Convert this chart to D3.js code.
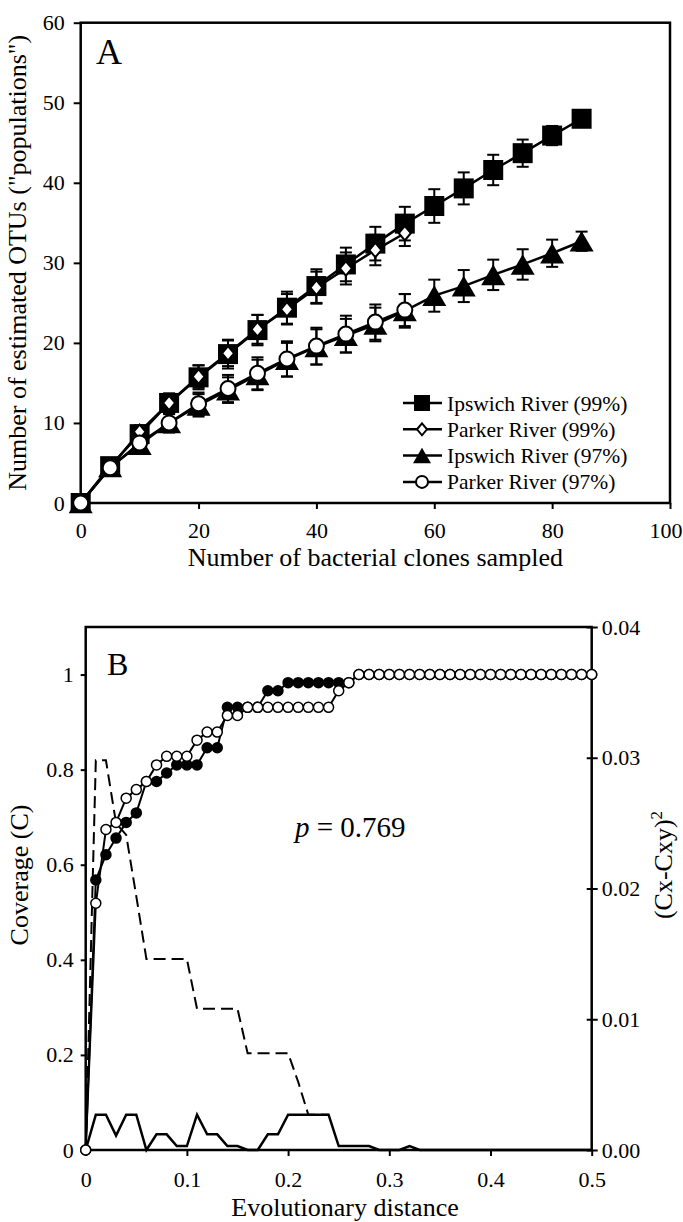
<!DOCTYPE html>
<html>
<head>
<meta charset="utf-8">
<script src="https://cdn.jsdelivr.net/npm/d3@7"></script>
<style>
  body { margin: 0; background: #fff; }
  svg { display: block; font-family: "Liberation Serif", "Times New Roman", serif; }
</style>
</head>
<body>
<svg id="chart"></svg>
<script>
const svgWidth = 683;
const svgHeight = 1222;

// ---- panel A data (rarefaction curves) ----
const clones = [0, 5, 10, 15, 20, 25, 30, 35, 40, 45, 50, 55, 60, 65, 70, 75, 80, 85];
const ipswich99 = [0, 4.6, 8.6, 12.5, 15.7, 18.6, 21.6, 24.4, 27.1, 29.8, 32.4, 34.9, 37.1, 39.3, 41.6, 43.7, 45.9, 48.0];
const ipswich99Err = [0, 0.4, 0.9, 1.2, 1.5, 1.8, 1.9, 2.0, 2.1, 2.1, 2.1, 2.1, 2.1, 2.0, 1.9, 1.7, 1.2, 0.6];
const parker99 = [0, 4.4, 8.9, 12.5, 15.8, 18.7, 21.7, 24.2, 26.9, 29.3, 31.6, 33.7];
const parker99Err = [0, 0.4, 0.8, 1.1, 1.4, 1.6, 1.8, 1.9, 2.0, 2.0, 1.9, 1.6];
const ipswich97 = [0, 4.5, 7.3, 10.0, 12.2, 14.1, 16.0, 17.9, 19.5, 20.9, 22.3, 24.0, 25.9, 27.1, 28.5, 29.8, 31.2, 32.7];
const ipswich97Err = [0, 0.5, 0.9, 1.2, 1.4, 1.6, 1.9, 2.1, 2.2, 2.1, 2.1, 2.1, 2.0, 2.0, 1.9, 1.9, 1.7, 1.2];
const parker97 = [0, 4.4, 7.5, 10.0, 12.4, 14.3, 16.2, 18.0, 19.6, 21.1, 22.6, 24.1];
const parker97Err = [0, 0.4, 0.8, 1.1, 1.4, 1.7, 2.0, 2.2, 2.3, 2.3, 2.2, 2.0];
const legendLabels = ["Ipswich River (99%)", "Parker River (99%)", "Ipswich River (97%)", "Parker River (97%)"];
const cloneTicks = [0, 20, 40, 60, 80, 100];
const otuTicks = [0, 10, 20, 30, 40, 50, 60];

// ---- panel B data (coverage curves) ----
const distance = [0, 0.01, 0.02, 0.03, 0.04, 0.05, 0.06, 0.07, 0.08, 0.09, 0.1, 0.11, 0.12, 0.13, 0.14, 0.15, 0.16, 0.17, 0.18, 0.19, 0.2,
  0.21, 0.22, 0.23, 0.24, 0.25, 0.26, 0.27, 0.28, 0.29, 0.3, 0.31, 0.32, 0.33, 0.34, 0.35, 0.36, 0.37, 0.38, 0.39, 0.4,
  0.41, 0.42, 0.43, 0.44, 0.45, 0.46, 0.47, 0.48, 0.49, 0.5];
const coverageFilled = [0, 0.568, 0.621, 0.656, 0.689, 0.709, 0.775, 0.775, 0.793, 0.810, 0.810, 0.810, 0.846, 0.846, 0.931, 0.931, 0.931, 0.931, 0.966, 0.966, 0.983,
  0.983, 0.983, 0.983, 0.983, 0.983, 0.983, 1, 1, 1, 1, 1, 1, 1, 1, 1, 1, 1, 1, 1, 1,
  1, 1, 1, 1, 1, 1, 1, 1, 1, 1];
const coverageOpen = [0, 0.519, 0.674, 0.689, 0.740, 0.758, 0.775, 0.810, 0.828, 0.828, 0.828, 0.862, 0.879, 0.879, 0.914, 0.914, 0.931, 0.931, 0.931, 0.931, 0.931,
  0.931, 0.931, 0.931, 0.931, 0.966, 0.983, 1, 1, 1, 1, 1, 1, 1, 1, 1, 1, 1, 1, 1, 1,
  1, 1, 1, 1, 1, 1, 1, 1, 1, 1];
const sqDiffSolid = [0, 0.0027, 0.0027, 0.0011, 0.0027, 0.0027, 0, 0.0012, 0.0012, 0.0003, 0.0003, 0.0027, 0.0012, 0.0012, 0.0003, 0.0003, 0, 0, 0.0012, 0.0012, 0.0027,
  0.0027, 0.0027, 0.0027, 0.0027, 0.0003, 0.0003, 0.0003, 0.0003, 0, 0, 0, 0.0003, 0, 0, 0, 0, 0, 0, 0, 0,
  0, 0, 0, 0, 0, 0, 0, 0, 0, 0];
const sqDiffDashed = [0, 0.0298, 0.0298, 0.0250, 0.0241, 0.0194, 0.0146, 0.0146, 0.0146, 0.0146, 0.0146, 0.0108, 0.0108, 0.0108, 0.0108, 0.0108,
  0.0074, 0.0074, 0.0074, 0.0074, 0.0074, 0.0052, 0.0027, 0.0027, 0.0027];
const distTicks = [0, 0.1, 0.2, 0.3, 0.4, 0.5];
const distTickLabels = ["0", "0.1", "0.2", "0.3", "0.4", "0.5"];
const coverageTicks = [0, 0.2, 0.4, 0.6, 0.8, 1];
const coverageTickLabels = ["0", "0.2", "0.4", "0.6", "0.8", "1"];
const diffTicks = [0, 0.01, 0.02, 0.03, 0.04];

const svg = d3.select("#chart")
    .attr("width", svgWidth)
    .attr("height", svgHeight);

function styleAxis(g) {
    g.attr("font-family", null).attr("font-size", null);
    g.select(".domain").remove();
    g.selectAll(".tick line").attr("stroke", "#000").attr("stroke-width", 2);
    g.selectAll(".tick text").attr("fill", "#000").style("font-size", "22px");
}

// marker shapes, size = nominal width in px
const markerShapes = {
    square: (g, s) => g.append("rect").attr("x", -s / 2).attr("y", -s / 2).attr("width", s).attr("height", s).attr("fill", "#000"),
    diamond: (g, s) => g.append("path").attr("d", `M0,${-s * 0.6}L${s * 0.5},0L0,${s * 0.6}L${-s * 0.5},0Z`)
        .attr("fill", "#fff").attr("stroke", "#000").attr("stroke-width", 2),
    triangle: (g, s) => g.append("path").attr("d", `M0,${-s * 0.43}L${s / 2},${s * 0.43}L${-s / 2},${s * 0.43}Z`).attr("fill", "#000"),
    circle: (g, s) => g.append("circle").attr("r", s / 2).attr("fill", "#fff").attr("stroke", "#000").attr("stroke-width", 2)
};

// ================= Panel A =================
const boxA = { left: 80.7, right: 670, top: 22.7, bottom: 503 };
const xA = d3.scaleLinear().domain([0, 100]).range([boxA.left, boxA.right]);
const yA = d3.scaleLinear().domain([0, 60]).range([boxA.bottom, boxA.top]);

svg.append("g")
    .attr("transform", `translate(0,${boxA.bottom})`)
    .call(d3.axisBottom(xA).tickValues(cloneTicks).tickSize(6).tickPadding(13))
    .call(styleAxis)
    // last label sits at the page edge, keep it inside
    .call(g => g.selectAll(".tick:last-of-type text").attr("text-anchor", "end").attr("x", svgWidth - 1 - xA(100)));

svg.append("g")
    .attr("transform", `translate(${boxA.left},0)`)
    .call(d3.axisLeft(yA).tickValues(otuTicks).tickSize(7).tickPadding(9))
    .call(styleAxis);

svg.append("rect")
    .attr("x", boxA.left).attr("y", boxA.top)
    .attr("width", boxA.right - boxA.left).attr("height", boxA.bottom - boxA.top)
    .attr("fill", "none").attr("stroke", "#000").attr("stroke-width", 2.5);

const seriesA = [
    { values: ipswich99, err: ipswich99Err, shape: "square", size: 20, legend: 16 },
    { values: parker99, err: parker99Err, shape: "diamond", size: 12, legend: 10 },
    { values: ipswich97, err: ipswich97Err, shape: "triangle", size: 24, legend: 18 },
    { values: parker97, err: parker97Err, shape: "circle", size: 15, legend: 12 }
];

const lineA = d3.line().x((d, i) => xA(clones[i])).y(d => yA(d));
const plotA = svg.append("g");

// error bars and lines first
seriesA.forEach(s => {
    const bars = plotA.append("g").attr("stroke", "#000").attr("stroke-width", 2);
    s.values.forEach((v, i) => {
        const e = s.err[i];
        if (!e) return;
        const x = xA(clones[i]);
        bars.append("line").attr("x1", x).attr("x2", x).attr("y1", yA(v - e)).attr("y2", yA(v + e));
        bars.append("line").attr("x1", x - 6).attr("x2", x + 6).attr("y1", yA(v + e)).attr("y2", yA(v + e));
        bars.append("line").attr("x1", x - 6).attr("x2", x + 6).attr("y1", yA(v - e)).attr("y2", yA(v - e));
    });
    plotA.append("path")
        .datum(s.values)
        .attr("d", lineA)
        .attr("fill", "none").attr("stroke", "#000").attr("stroke-width", 2.5);
});

seriesA.forEach(s => {
    plotA.append("g").selectAll("g")
        .data(s.values)
        .enter()
        .append("g")
        .attr("transform", (d, i) => `translate(${xA(clones[i])},${yA(d)})`)
        .each(function () { markerShapes[s.shape](d3.select(this), s.size); });
});

// legend
const legend = svg.append("g");
legendLabels.forEach((label, i) => {
    const y = 403 + i * 26.3;
    legend.append("line").attr("x1", 403).attr("x2", 442).attr("y1", y).attr("y2", y)
        .attr("stroke", "#000").attr("stroke-width", 2.5);
    const m = legend.append("g").attr("transform", `translate(422,${y})`);
    markerShapes[seriesA[i].shape](m, seriesA[i].legend);
    legend.append("text").attr("x", 447).attr("y", y + 7.5)
        .style("font-size", "21.5px").text(label);
});

svg.append("text")
    .attr("x", 96).attr("y", 64)
    .style("font-size", "36px")
    .text("A");

svg.append("text")
    .attr("x", (boxA.left + boxA.right) / 2).attr("y", 566)
    .attr("text-anchor", "middle")
    .style("font-size", "26px")
    .text("Number of bacterial clones sampled");

svg.append("text")
    .attr("transform", `translate(26,${(boxA.top + boxA.bottom) / 2}) rotate(-90)`)
    .attr("text-anchor", "middle")
    .style("font-size", "26px")
    .text("Number of estimated OTUs (\"populations\")");

// ================= Panel B =================
const boxB = { left: 85.7, right: 591.7, top: 627, bottom: 1150 };
const xB = d3.scaleLinear().domain([0, 0.5]).range([boxB.left, boxB.right]);
const yB = d3.scaleLinear().domain([0, 1.1]).range([boxB.bottom, boxB.top]);
const yB2 = d3.scaleLinear().domain([0, 0.04]).range([boxB.bottom, boxB.top]);

svg.append("g")
    .attr("transform", `translate(0,${boxB.bottom})`)
    .call(d3.axisBottom(xB).tickValues(distTicks).tickFormat((d, i) => distTickLabels[i]).tickSize(6).tickPadding(15))
    .call(styleAxis);

svg.append("g")
    .attr("transform", `translate(${boxB.left},0)`)
    .call(d3.axisLeft(yB).tickValues(coverageTicks).tickFormat((d, i) => coverageTickLabels[i]).tickSize(5).tickPadding(7))
    .call(styleAxis);

svg.append("g")
    .attr("transform", `translate(${boxB.right},0)`)
    .call(d3.axisRight(yB2).tickValues(diffTicks).tickFormat(d3.format(".2f")).tickSize(6).tickPadding(4))
    .call(styleAxis)
    .call(g => g.selectAll(".tick").append("line").attr("x2", -5).attr("stroke", "#000").attr("stroke-width", 2));

svg.append("rect")
    .attr("x", boxB.left).attr("y", boxB.top)
    .attr("width", boxB.right - boxB.left).attr("height", boxB.bottom - boxB.top)
    .attr("fill", "none").attr("stroke", "#000").attr("stroke-width", 2.5);

const plotB = svg.append("g");
const lineDiff = d3.line().x((d, i) => xB(distance[i])).y(d => yB2(d));
const lineCov = d3.line().x((d, i) => xB(distance[i])).y(d => yB(d));

plotB.append("path")
    .datum(sqDiffDashed)
    .attr("d", lineDiff)
    .attr("fill", "none").attr("stroke", "#000").attr("stroke-width", 2)
    .attr("stroke-dasharray", "12,6");

plotB.append("path")
    .datum(sqDiffSolid)
    .attr("d", lineDiff)
    .attr("fill", "none").attr("stroke", "#000").attr("stroke-width", 2.5);

[coverageFilled, coverageOpen].forEach(values => {
    plotB.append("path")
        .datum(values)
        .attr("d", lineCov)
        .attr("fill", "none").attr("stroke", "#000").attr("stroke-width", 2);
});

plotB.append("g").selectAll("circle")
    .data(coverageFilled)
    .enter()
    .append("circle")
    .attr("cx", (d, i) => xB(distance[i]))
    .attr("cy", d => yB(d))
    .attr("r", 5)
    .attr("fill", "#000").attr("stroke", "#000").attr("stroke-width", 1.5);

plotB.append("g").selectAll("circle")
    .data(coverageOpen)
    .enter()
    .append("circle")
    .attr("cx", (d, i) => xB(distance[i]))
    .attr("cy", d => yB(d))
    .attr("r", 5)
    .attr("fill", "#fff").attr("stroke", "#000").attr("stroke-width", 1.5);

svg.append("text")
    .attr("x", 107).attr("y", 675)
    .style("font-size", "32px")
    .text("B");

svg.append("text")
    .attr("x", 295).attr("y", 837)
    .style("font-size", "29px")
    .call(t => {
        t.append("tspan").style("font-style", "italic").text("p");
        t.append("tspan").text(" = 0.769");
    });

svg.append("text")
    .attr("x", 345).attr("y", 1216)
    .attr("text-anchor", "middle")
    .style("font-size", "26px")
    .text("Evolutionary distance");

svg.append("text")
    .attr("transform", `translate(28,875) rotate(-90)`)
    .attr("text-anchor", "middle")
    .style("font-size", "26px")
    .text("Coverage (C)");

svg.append("text")
    .attr("transform", `translate(672,865) rotate(-90)`)
    .attr("text-anchor", "middle")
    .style("font-size", "26px")
    .call(t => {
        t.append("tspan").text("(Cx-Cxy)");
        t.append("tspan").attr("dy", -10).style("font-size", "17px").text("2");
    });
</script>
</body>
</html>
